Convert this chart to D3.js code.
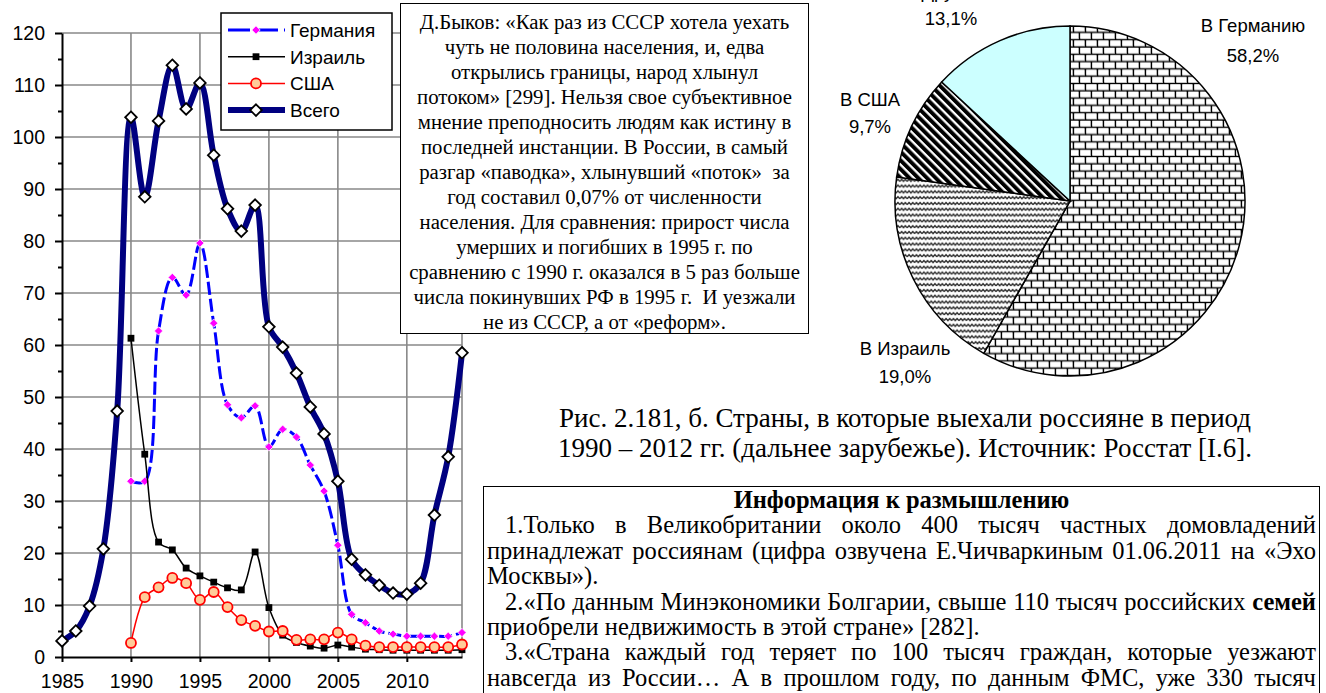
<!DOCTYPE html>
<html><head><meta charset="utf-8">
<script src="https://cdn.jsdelivr.net/npm/d3@7"></script>
<style>
body{margin:0;background:#fff;}
#wrap{position:relative;width:1326px;height:693px;overflow:hidden;background:#fff;}
svg{position:absolute;left:0;top:0;}
.serif{font-family:"Liberation Serif","Times New Roman",serif;color:#000;}
.box{position:absolute;background:#fff;border:1.5px solid #000;box-sizing:border-box;}
.jl{display:flex;justify-content:space-between;white-space:nowrap;}
.ll{white-space:nowrap;}
</style></head><body><div id="wrap"></div>
<script>
// ---------- DATA ----------
const yearsTotal = d3.range(1985, 2015);
const yearsCountries = d3.range(1990, 2015);
const totalValues = [3.1,5.0,9.8,20.8,47.3,103.8,88.5,103.1,113.8,105.4,110.4,96.5,86.2,81.9,86.9,63.5,59.6,54.6,48.1,42.9,33.8,18.8,15.8,13.8,12.3,12.1,14.2,27.3,38.5,58.5];
const germanyValues = [33.8,33.8,62.7,73.0,69.6,79.6,64.2,48.5,46.0,48.3,40.4,43.8,42.3,36.9,31.9,21.5,8.2,6.6,5.0,4.4,4.0,4.0,4.0,4.0,4.7];
const israelValues = [61.3,39.0,22.1,20.6,17.1,15.6,14.4,13.3,12.9,20.2,9.5,4.2,2.8,2.1,1.7,2.3,1.9,1.5,1.4,1.3,1.3,1.3,1.3,1.3,1.4];
const usaValues = [2.7,11.5,13.4,15.2,14.2,11.0,12.5,9.6,7.1,6.0,4.9,5.0,3.3,3.4,3.4,4.7,3.4,2.2,1.9,1.9,1.9,1.9,1.9,1.9,2.4];
const seriesNames = ["Германия","Израиль","США","Всего"];
const xTickLabels = [1985,1990,1995,2000,2005,2010];
const yTickLabels = [0,10,20,30,40,50,60,70,80,90,100,110,120];
const pieCategories = ["В Германию","В Израиль","В США","Другие"];
const pieValues = [58.2,19.0,9.7,13.1];

// ---------- LAYOUT ----------
const W = 1326, H = 693;
const wrap = d3.select("#wrap");
const svg = wrap.append("svg").attr("width",W).attr("height",H);
const x = d3.scaleLinear().domain([1985,2014]).range([62,462]);
const y = d3.scaleLinear().domain([0,120]).range([657,33]);
const sansFont = "'Liberation Sans', Arial, sans-serif";

// grid
const grid = svg.append("g");
grid.selectAll("line.h").data(yTickLabels.filter(d=>d>0)).join("line").attr("class","h")
  .attr("x1",x(1985)).attr("x2",x(2014)).attr("y1",d=>y(d)).attr("y2",d=>y(d))
  .attr("stroke","#888").attr("stroke-width",1.6);
grid.selectAll("line.v").data(xTickLabels.filter(d=>d>1985).concat([2014])).join("line").attr("class","v")
  .attr("x1",d=>x(d)).attr("x2",d=>x(d)).attr("y1",y(0)).attr("y2",y(120))
  .attr("stroke","#888").attr("stroke-width",1.6);

// axes
const yAxis = svg.append("g").attr("transform",`translate(${x(1985)},0)`)
  .call(d3.axisLeft(y).tickValues(yTickLabels).tickSize(7).tickSizeOuter(0).tickPadding(10));
const yMinor = svg.append("g").attr("transform",`translate(${x(1985)},0)`)
  .call(d3.axisLeft(y).tickValues(d3.range(5,120,10)).tickSize(4).tickSizeOuter(0).tickFormat(""));
yMinor.select(".domain").remove();
const xAxis = svg.append("g").attr("transform",`translate(0,${y(0)})`)
  .call(d3.axisBottom(x).tickValues(xTickLabels).tickFormat(d3.format("d")).tickSize(5).tickSizeOuter(0).tickPadding(12));
[yAxis,yMinor,xAxis].forEach(a=>{
  a.selectAll("path,line").attr("stroke","#000").attr("stroke-width",2);
  a.selectAll("text").attr("font-family",sansFont).attr("font-size","19.5px").attr("fill","#000");
});

// series
const curve = d3.curveCatmullRom.alpha(0.5);
const line = d3.line().x(d=>x(d[0])).y(d=>y(d[1])).curve(curve);
const diamond = s => `M0,${-s}L${s},0L0,${s}L${-s},0Z`;
const seriesDefs = [
  {name:seriesNames[0], years:yearsCountries, values:germanyValues, color:"#0000ff", width:3, dash:"13,4",
   marker:(sel)=>sel.append("path").attr("d",diamond(4.2)).attr("fill","#ff00ff").attr("stroke","#fff").attr("stroke-width",0.8)},
  {name:seriesNames[1], years:yearsCountries, values:israelValues, color:"#000", width:1.5, dash:null,
   marker:(sel)=>sel.append("rect").attr("x",-3.4).attr("y",-3.4).attr("width",6.8).attr("height",6.8).attr("fill","#000")},
  {name:seriesNames[2], years:yearsCountries, values:usaValues, color:"#ff0000", width:1.5, dash:null,
   marker:(sel)=>sel.append("circle").attr("r",5).attr("fill","#ffcc99").attr("stroke","#ff0000").attr("stroke-width",1.8)},
  {name:seriesNames[3], years:yearsTotal, values:totalValues, color:"#000080", width:6, dash:null,
   marker:(sel)=>sel.append("path").attr("d",diamond(5.8)).attr("fill","#fff").attr("stroke","#000").attr("stroke-width",1.8)}
];
seriesDefs.forEach(s=>{
  const pts = s.years.map((yr,i)=>[yr,s.values[i]]);
  const g = svg.append("g");
  g.append("path").datum(pts).attr("d",line).attr("fill","none").attr("stroke",s.color)
   .attr("stroke-width",s.width).attr("stroke-dasharray",s.dash).attr("stroke-linejoin","round");
  g.selectAll("g.m").data(pts).join("g").attr("class","m")
   .attr("transform",d=>`translate(${x(d[0])},${y(d[1])})`).each(function(){ s.marker(d3.select(this)); });
});

// legend
const leg = svg.append("g");
leg.append("rect").attr("x",221).attr("y",13).attr("width",171).attr("height",117)
  .attr("fill","#fff").attr("stroke","#000").attr("stroke-width",1.5);
seriesDefs.forEach((s,i)=>{
  const cy = 30 + i*26.7;
  const item = leg.append("g").attr("transform",`translate(0,${cy})`);
  item.append("line").attr("x1",228).attr("x2",285).attr("stroke",s.color).attr("stroke-width",s.width)
    .attr("stroke-dasharray",s.dash ? "22,6" : null);
  const m = item.append("g").attr("transform","translate(256,0)");
  s.marker(m);
  item.append("text").attr("x",290).attr("y",7).text(s.name)
    .attr("font-family",sansFont).attr("font-size","19px").attr("fill","#000");
});

// ---------- PIE ----------
const defs = svg.append("defs");
const brick = defs.append("pattern").attr("id","brick").attr("patternUnits","userSpaceOnUse")
  .attr("width",12).attr("height",14.6).attr("x",1071).attr("y",28);
brick.append("rect").attr("width",12).attr("height",14.6).attr("fill","#000");
[[1.3,1.3],[-4.7,8.6],[7.3,8.6]].forEach(([bx,by])=>{
  brick.append("rect").attr("x",bx).attr("y",by).attr("width",10.6).attr("height",6.0).attr("fill","#bbb");
  brick.append("rect").attr("x",bx).attr("y",by).attr("width",9.8).attr("height",5.2).attr("fill","#fff");
});
const wave = defs.append("pattern").attr("id","wave").attr("patternUnits","userSpaceOnUse")
  .attr("width",7.4).attr("height",5.8);
wave.append("rect").attr("width",7.4).attr("height",5.8).attr("fill","#fff");
wave.append("path").attr("d","M0,3.6 L1.85,1.5 L3.7,3.6 L5.55,1.5 L7.4,3.6").attr("fill","none")
  .attr("stroke","#222").attr("stroke-width",1.3);
const stripe = defs.append("pattern").attr("id","stripe").attr("patternUnits","userSpaceOnUse")
  .attr("width",6.2).attr("height",10).attr("patternTransform","rotate(-45)");
stripe.append("rect").attr("width",6.2).attr("height",10).attr("fill","#fff");
stripe.append("rect").attr("width",3.6).attr("height",10).attr("fill","#000");
stripe.append("rect").attr("x",3.6).attr("width",0.8).attr("height",10).attr("fill","#888");
const pieFills = ["url(#brick)","url(#wave)","url(#stripe)","#ccffff"];

const pieCx = 1070, pieCy = 201, pieR = 175;
const pie = d3.pie().sort(null).value(d=>d)(pieValues);
const arc = d3.arc().innerRadius(0).outerRadius(pieR);
svg.append("g").attr("transform",`translate(${pieCx},${pieCy})`)
  .selectAll("path").data(pie).join("path").attr("d",arc)
  .attr("fill",(d,i)=>pieFills[i]).attr("stroke","#000").attr("stroke-width",1.5);

const pieLabelPos = [ {x:1253,y1:32,y2:62}, {x:905,y1:355,y2:383}, {x:870,y1:106,y2:133}, {x:951,y1:-2,y2:25} ];
pie.forEach((d,i)=>{
  const p = pieLabelPos[i];
  const t = svg.append("g").attr("font-family",sansFont).attr("font-size","18.5px").attr("text-anchor","middle");
  t.append("text").attr("x",p.x).attr("y",p.y1).text(pieCategories[i]);
  t.append("text").attr("x",p.x).attr("y",p.y2).text(d3.format(".1f")(pieValues[i]).replace(".",",")+"%");
});

// ---------- TEXT BOXES ----------
const quoteLines = [
 "Д.Быков: «Как раз из СССР хотела уехать",
 "чуть не половина населения, и, едва",
 "открылись границы, народ хлынул",
 "потоком» [299]. Нельзя свое субъективное",
 "мнение преподносить людям как истину в",
 "последней инстанции. В России, в самый",
 "разгар «паводка», хлынувший «поток»  за",
 "год составил 0,07% от численности",
 "населения. Для сравнения: прирост числа",
 "умерших и погибших в 1995 г. по",
 "сравнению с 1990 г. оказался в 5 раз больше",
 "числа покинувших РФ в 1995 г.  И уезжали",
 "не из СССР, а от «реформ»."
];
const qbox = wrap.append("div").attr("class","box serif")
  .style("left","400px").style("top","3px").style("width","409px").style("height","331px")
  .style("font-size","20.8px").style("line-height","25px").style("text-align","center").style("padding-top","5px");
qbox.selectAll("div").data(quoteLines).join("div").attr("class","ll").style("white-space","pre").text(d=>d);

const captionLines = [
 "Рис. 2.181, б. Страны, в которые выехали россияне в период",
 "1990 – 2012 гг. (дальнее зарубежье). Источник: Росстат [I.6]."
];
wrap.append("div").attr("class","serif").style("position","absolute").style("left","455px").style("top","403px")
  .style("width","900px").style("text-align","center").style("font-size","27px").style("line-height","30px")
  .selectAll("div").data(captionLines).join("div").attr("class","ll").text(d=>d);

const infoTitle = "Информация к размышлению";
const infoLines = [
 {t:"1.Только в Великобритании около 400 тысяч частных домовладений", j:true, ind:true},
 {t:"принадлежат россиянам (цифра озвучена Е.Чичваркиным 01.06.2011 на «Эхо", j:true},
 {t:"Москвы»).", j:false},
 {t:"2.«По данным Минэкономики Болгарии, свыше 110 тысяч российских *семей*", j:true, ind:true},
 {t:"приобрели недвижимость в этой стране» [282].", j:false},
 {t:"3.«Страна каждый год теряет по 100 тысяч граждан, которые уезжают", j:true, ind:true},
 {t:"навсегда из России… А в прошлом году, по данным ФМС, уже 330 тысяч", j:true}
];
const ibox = wrap.append("div").attr("class","box serif")
  .style("left","483px").style("top","486px").style("width","837px").style("height","260px")
  .style("font-size","24.5px").style("line-height","25.4px").style("padding","0 3px 0 3px");
ibox.append("div").style("text-align","center").style("font-weight","bold").text(infoTitle);
infoLines.forEach(l=>{
  const row = ibox.append("div").attr("class", l.j ? "jl" : "ll").style("padding-left", l.ind ? "18px" : "0px");
  const words = l.t.split(" ");
  if (l.j) {
    words.forEach(w=>{
      const b = w.startsWith("*");
      row.append("span").style("font-weight", b ? "bold" : null).text(w.replace(/\*/g,""));
    });
  } else row.text(l.t);
});
</script></body></html>
